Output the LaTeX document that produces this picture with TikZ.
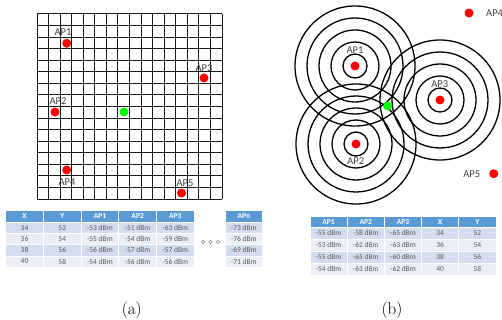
\documentclass[tikz,border=0pt]{standalone}
\usepackage{fontspec}
\newfontfamily\calfont{Carlito}
\definecolor{hdblue}{HTML}{5B9BD5}
\definecolor{rowa}{HTML}{D2DEEF}
\definecolor{rowb}{HTML}{EAEFF7}
\definecolor{txtgray}{HTML}{595959}
\definecolor{lblgray}{HTML}{404040}
\tikzset{
  apdot/.style={circle,fill=red,inner sep=0pt,minimum size=9pt},
  mobdot/.style={circle,fill=green,inner sep=0pt,minimum size=9pt},
  aplbl/.style={font=\calfont\fontsize{10.5}{12}\selectfont,text=lblgray,inner sep=0pt},
  gridline/.style={black!90,line width=1pt},
  ring/.style={black,line width=1.3pt},
  tcell/.style={draw=white,line width=0.8pt,inner sep=0pt,minimum height=11.3pt,
    font=\calfont\fontsize{7.5}{9}\selectfont,text=txtgray},
  hcell/.style={tcell,fill=hdblue,text=white,font=\calfont\bfseries\fontsize{7.5}{9}\selectfont},
  capt/.style={font=\fontsize{17}{19}\selectfont,inner sep=0pt}
}
\begin{document}
\begin{tikzpicture}[x=1pt,y=-1pt]
    \useasboundingbox (0,0) rectangle (502,320);

    % griglia (a)
    \foreach \k in {0,...,16}{
        \draw[gridline] ({37+11.5625*\k},14) -- ++(0,185);
        \draw[gridline] (37,{14+11.5625*\k}) -- ++(185,0);
    }
    \node[apdot] (a1) at (66.7,43.3) {};
    \node[apdot] (a2) at (55,112) {};
    \node[apdot] (a3) at (204,78) {};
    \node[apdot] (a4) at (66.7,170) {};
    \node[apdot] (a5) at (181.5,193) {};
    \node[mobdot] (am) at (124,112) {};
    \node[aplbl] (la1) at (63,32) {AP1};
    \node[aplbl] (la2) at (58,101) {AP2};
    \node[aplbl] (la3) at (204,68) {AP3};
    \node[aplbl] (la4) at (67,182) {AP4};
    \node[aplbl] (la5) at (185,183) {AP5};

    % tabella (a)
    \foreach \t [count=\c] in {X,Y,AP1,AP2,AP3}
        \node[hcell,minimum width=37.7pt] (ta-0-\c) at ({5.7+37.7*(\c-0.5)},216.5) {\t};
    \foreach \a/\b/\p/\q/\r/\f [count=\i] in {34/52/-53/-51/-63/rowa,36/54/-55/-54/-59/rowb,
        38/56/-56/-57/-57/rowa,40/58/-54/-56/-56/rowb}{
        \foreach \v [count=\c] in {\a,\b,\p~dBm,\q~dBm,\r~dBm}
            \node[tcell,fill=\f,minimum width=37.7pt] (ta-\i-\c) at ({5.7+37.7*(\c-0.5)},{222+11.3*(\i-0.5)}) {\v};
    }
    \node[hcell,minimum width=37.7pt] (tn-0) at (243.8,216.5) {APn};
    \foreach \p/\f [count=\i] in {-73/rowa,-76/rowb,-69/rowa,-71/rowb}
        \node[tcell,fill=\f,minimum width=37.7pt] (tn-\i) at (243.8,{222+11.3*(\i-0.5)}) {\p~dBm};
    \foreach \k in {0,1,2}
        \node[circle,draw=black!45,line width=0.5pt,inner sep=0pt,minimum size=3.4pt] (dd\k) at ({203+7.5*\k},242) {};

    % cerchi (b)
    \coordinate (c1) at (355,66);
    \coordinate (c2) at (356,144);
    \coordinate (c3) at (440,100);
    \foreach \c in {c1,c2,c3}
        \foreach \rr in {12,24,36,48,60}
            \draw[ring] (\c) circle[radius=\rr];
    \node[apdot] (b1) at (c1) {};
    \node[apdot] (b2) at (c2) {};
    \node[apdot] (b3) at (c3) {};
    \node[apdot] (b4) at (469,13) {};
    \node[apdot] (b5) at (493.7,173.7) {};
    \node[mobdot] (bm) at (387.7,106) {};
    \node[aplbl] (lb1) at (355,50) {AP1};
    \node[aplbl] (lb2) at (355.7,161) {AP2};
    \node[aplbl] (lb3) at (439.7,84) {AP3};
    \node[aplbl,anchor=west] (lb4) at (486,13) {AP4};
    \node[aplbl] (lb5) at (471.7,173.7) {AP5};

    % tabella (b)
    \foreach \t [count=\c] in {AP1,AP2,AP3,X,Y}
        \node[hcell,minimum width=37.2pt,minimum height=10.5pt] (tb-0-\c) at ({310+37.2*(\c-0.5)},222) {\t};
    \foreach \p/\q/\r/\a/\b/\f [count=\i] in {-55/-58/-65/34/52/rowa,-53/-62/-63/36/54/rowb,
        -55/-65/-60/38/56/rowa,-54/-63/-62/40/58/rowb}{
        \foreach \v [count=\c] in {\p~dBm,\q~dBm,\r~dBm,\a,\b}
            \node[tcell,fill=\f,minimum width=37.2pt,minimum height=12pt] (tb-\i-\c) at ({310+37.2*(\c-0.5)},{227.2+12*(\i-0.5)}) {\v};
    }

    % didascalie
    \node[capt] (ca) at (131.7,310) {(a)};
    \node[capt] (cb) at (392,310) {(b)};
\end{tikzpicture}
\end{document}
